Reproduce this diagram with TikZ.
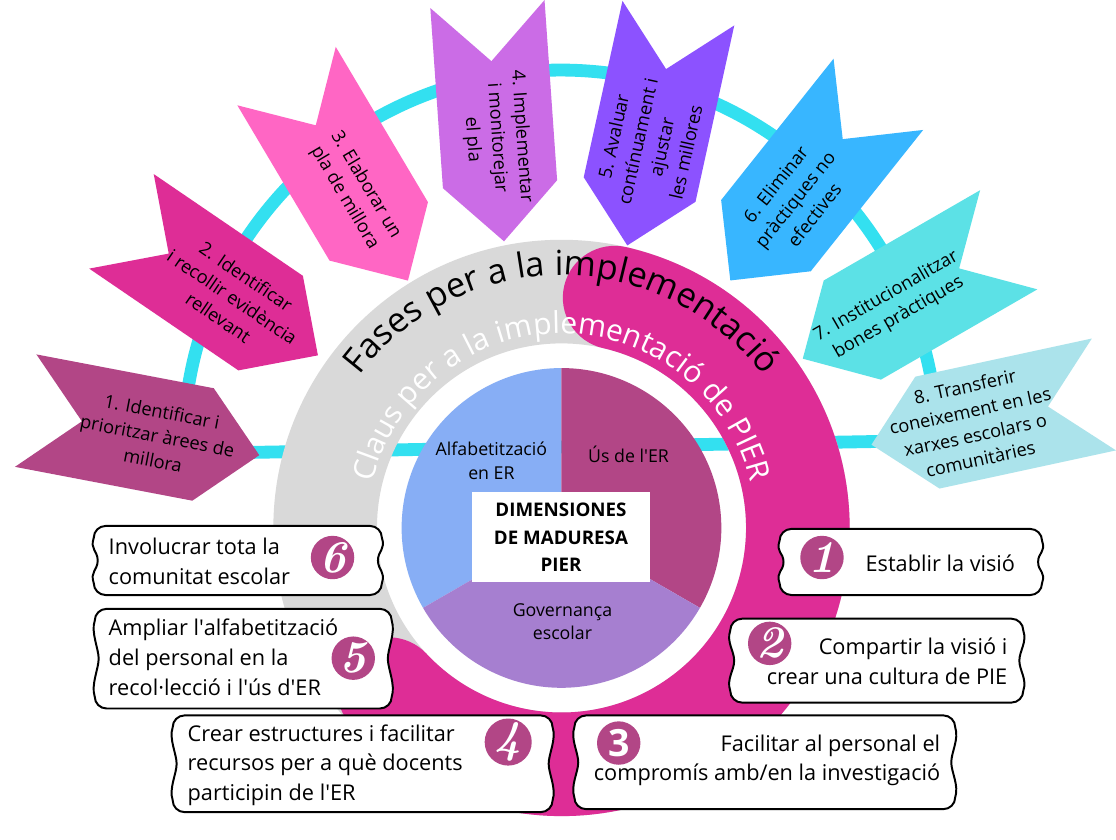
\documentclass[tikz,border=0pt]{standalone}
\usepackage{fontspec}
\setmainfont{Open Sans}
\usetikzlibrary{decorations.text}
\definecolor{cyanring}{HTML}{33E0F0}
\definecolor{ringgray}{HTML}{D9D9D9}
\definecolor{magring}{HTML}{DE2D96}
\definecolor{plum}{HTML}{B24686}
\definecolor{chevB}{HTML}{DE2D96}
\definecolor{chevC}{HTML}{FF66C4}
\definecolor{chevD}{HTML}{CB6CE6}
\definecolor{chevE}{HTML}{8C52FF}
\definecolor{chevF}{HTML}{38B6FF}
\definecolor{chevG}{HTML}{5CE1E6}
\definecolor{chevH}{HTML}{ABE3EB}
\definecolor{alfblue}{HTML}{87AEF5}
\definecolor{govlilac}{HTML}{A67FD0}
\tikzset{
phase/.style={font=\fontsize{18.5}{25}\selectfont,align=center,inner sep=0pt,transform shape},
boxtext/.style={font=\fontsize{22}{30}\selectfont,inner sep=0pt},
numdot/.style={circle,fill=plum,text=white,minimum size=44pt,inner sep=0pt,
  font=\fontsize{46}{46}\fontfamily{lmr}\fontseries{bx}\fontshape{it}\selectfont},
dimlabel/.style={font=\fontsize{18}{24}\selectfont,align=center,inner sep=0pt},
boxline/.style={draw=black,line width=2pt,fill=white}
}
\newcommand\wavybox[4]{%
\draw[boxline](#1+12,#2)--(#3-12,#2)arc[start angle=90,end angle=0,radius=12]
 ..controls +(4,-12) and +(0,10)..(#3-4,{(#2+#4)/2})
 ..controls +(0,-10) and +(4,12)..(#3,#4+12)arc[start angle=0,end angle=-90,radius=12]
 --(#1+12,#4)arc[start angle=270,end angle=180,radius=12]
 ..controls +(-4,12) and +(0,-10)..(#1+4,{(#2+#4)/2})
 ..controls +(0,10) and +(-4,-12)..(#1,#2-12)arc[start angle=180,end angle=90,radius=12]--cycle;}
\begin{document}
\begin{tikzpicture}[x=1pt,y=1pt]
\fill[white](0,0)rectangle(1116,825);
\draw[cyanring,line width=13](568,372)++(181:382)arc[start angle=181,end angle=1,radius=382]--cycle;
\begin{scope}[shift={(83,398)},rotate=-10.8]
\fill[plum](-58,58)--(0,0)--(-58,-58)--(125,-58)--(183,0)--(125,58)--cycle;
\node[phase](ph1)at(78,0){1. Identificar i\\prioritzar àrees de\\millora};
\end{scope}
\begin{scope}[shift={(171,568)},rotate=-34.3]
\fill[chevB](-58,58)--(0,0)--(-58,-58)--(125,-58)--(183,0)--(125,58)--cycle;
\node[phase](ph2)at(78,0){2. Identificar\\i recollir evidència\\rellevant};
\end{scope}
\begin{scope}[shift={(320,698)},rotate=-59.3]
\fill[chevC](-58,58)--(0,0)--(-58,-58)--(125,-58)--(183,0)--(125,58)--cycle;
\node[phase](ph3)at(78,0){3. Elaborar un\\pla de millora};
\end{scope}
\begin{scope}[shift={(498,763)},rotate=-86]
\fill[chevD](-58,58)--(0,0)--(-58,-58)--(125,-58)--(183,0)--(125,58)--cycle;
\node[phase](ph4)at(78,0){4. Implementar\\i monitorejar\\el pla};
\end{scope}
\begin{scope}[shift={(675,755)},rotate=-102.4]
\fill[chevE](-58,58)--(0,0)--(-58,-58)--(125,-58)--(183,0)--(125,58)--cycle;
\node[phase,rotate=180](ph5)at(78,0){5. Avaluar\\contínuament i\\ajustar\\les millores};
\end{scope}
\begin{scope}[shift={(854,684)},rotate=-128.5]
\fill[chevF](-58,58)--(0,0)--(-58,-58)--(125,-58)--(183,0)--(125,58)--cycle;
\node[phase,rotate=180](ph6)at(78,0){6. Eliminar\\pràctiques no\\efectives};
\end{scope}
\begin{scope}[shift={(972,553)},rotate=-150]
\fill[chevG](-58,58)--(0,0)--(-58,-58)--(125,-58)--(183,0)--(125,58)--cycle;
\node[phase,rotate=180](ph7)at(78,0){7. Institucionalitzar\\bones pràctiques};
\end{scope}
\begin{scope}[shift={(1062,413)},rotate=-167.8]
\fill[chevH](-58,58)--(0,0)--(-58,-58)--(125,-58)--(183,0)--(125,58)--cycle;
\node[phase,rotate=180](ph8)at(78,0){8. Transferir\\coneixement en les\\xarxes escolars o\\comunitàries};
\end{scope}
\fill[ringgray,even odd rule](569,290)circle[radius=292](569,290)circle[radius=187];
\draw[magring,line width=105,line cap=round](569,290)++(77:239.5)arc[start angle=77,end angle=-137,radius=239.5];
\path[decorate,decoration={text along path,text align=center,
  text={|\fontsize{35}{35}\selectfont|Fases per a la implementació}}]
  (569,290)++(160:256)arc[start angle=160,end angle=20,radius=256];
\path[decorate,decoration={text along path,text align=center,text color=white,
  text={|\fontsize{30.5}{30.5}\selectfont|Claus per a la implementació de PIER}}]
  (569,290)++(175:197)arc[start angle=175,end angle=5,radius=197];
\fill[alfblue](569,290)--++(90:162)arc[start angle=90,end angle=210,radius=162]--cycle;
\fill[plum](569,290)--++(90:162)arc[start angle=90,end angle=-30,radius=162]--cycle;
\fill[govlilac](569,290)--++(-30:162)arc[start angle=-30,end angle=-150,radius=162]--cycle;
\node[dimlabel](alfa)at(498,358){Alfabetització\\en ER};
\node[dimlabel](us)at(637,365){Ús de l\textquotesingle ER};
\node[dimlabel](gov)at(570,195){Governança\\escolar};
\node[fill=white,minimum width=181,minimum height=91,align=center,
  font=\fontsize{19}{28}\selectfont\bfseries](dim)at(568.5,280.5){DIMENSIONES\\DE MADURESA\\PIER};
\wavybox{95}{292}{387}{222}
\wavybox{96}{208}{397}{107}
\wavybox{790}{289}{1056}{222}
\wavybox{740}{198}{1037}{113}
\wavybox{175}{100}{560}{2}
\wavybox{582}{100}{968}{5}
\node[boxtext,anchor=west,align=left](b6)at(110,256){Involucrar tota la\\comunitat escolar};
\node[boxtext,anchor=west,align=left](b5)at(110,159){Ampliar l\textquotesingle alfabetització\\del personal en la\\recol·lecció i l\textquotesingle ús d\textquotesingle ER};
\node[boxtext,anchor=west](b1)at(877,254){Establir la visió};
\node[boxtext,anchor=east,align=right](b2)at(1021,155){Compartir la visió i\\crear una cultura de PIE};
\node[boxtext,anchor=west,align=left](b4)at(190,49.5){Crear estructures i facilitar\\recursos per a què docents\\participin de l\textquotesingle ER};
\node[boxtext,anchor=east,align=right](b3)at(953,54.5){Facilitar al personal el\\compromís amb/en la investigació};
\node[numdot](n6)at(337,260){6};
\node[numdot](n5)at(358,158){5};
\node[numdot](n1)at(833,260){1};
\node[numdot](n2)at(780,173){2};
\node[numdot](n4)at(515,73){4};
\node[numdot,font=\fontsize{38}{38}\selectfont\bfseries](n3)at(627,72){3};
\end{tikzpicture}
\end{document}
